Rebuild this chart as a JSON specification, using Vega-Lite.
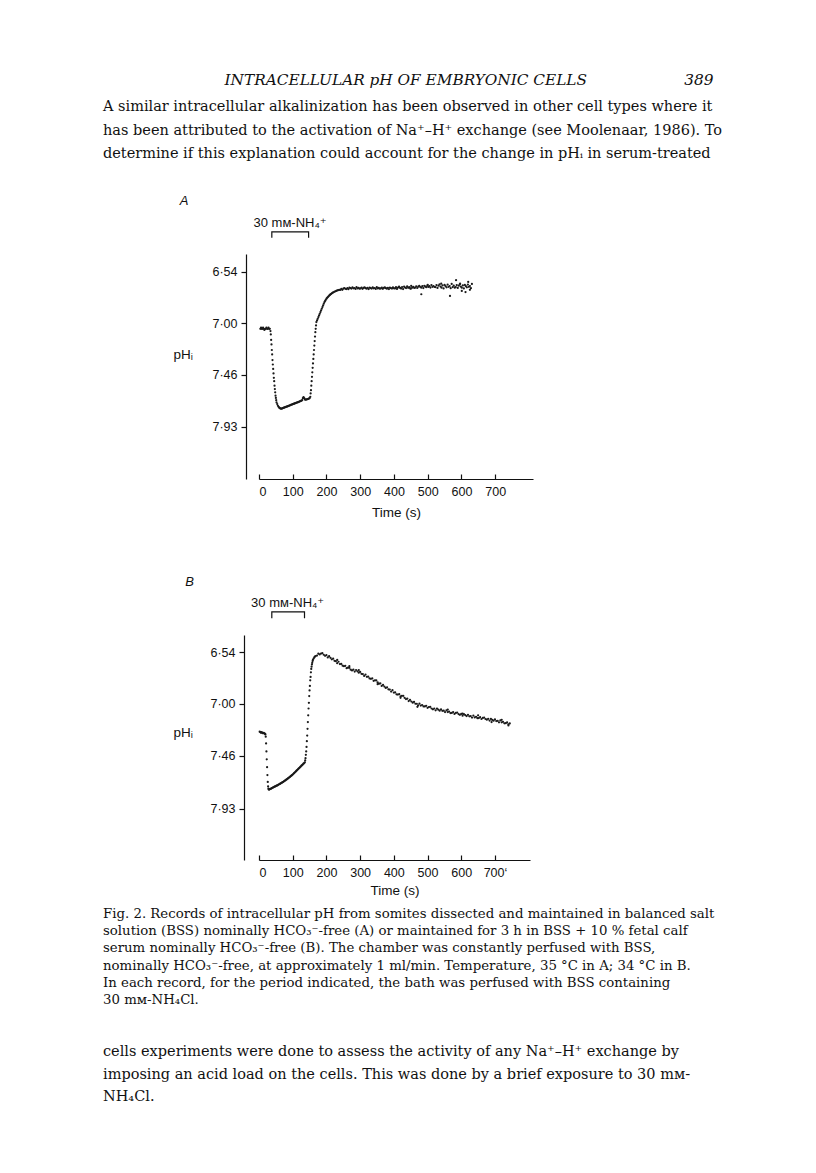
{
  "$schema": "https://vega.github.io/schema/vega-lite/v6.json",
  "background": "white",
  "padding": {"left": 103, "top": 72, "right": 10, "bottom": 10},
  "config": {
    "view": {"stroke": null},
    "concat": {"spacing": 56},
    "axis": {
      "domainColor": "#111", "domainWidth": 1.2, "tickColor": "#111", "tickWidth": 1.2,
      "labelColor": "#111", "labelFont": "Liberation Sans, DejaVu Sans", "labelFontSize": 12.5,
      "titleColor": "#111", "titleFont": "Liberation Sans, DejaVu Sans", "titleFontSize": 13.5, "titleFontWeight": "normal",
      "grid": false
    }
  },
  "title": {
    "text": "\u200b\u00a0\u00a0\u00a0\u00a0\u00a0\u00a0\u00a0\u00a0\u00a0\u00a0\u00a0\u00a0\u00a0\u00a0\u00a0\u00a0\u00a0\u00a0\u00a0\u00a0\u00a0\u00a0\u00a0\u00a0\u00a0INTRACELLULAR pH OF EMBRYONIC CELLS\u00a0\u00a0\u00a0\u00a0\u00a0\u00a0\u00a0\u00a0\u00a0\u00a0\u00a0\u00a0\u00a0\u00a0\u00a0\u00a0\u00a0\u00a0\u00a0\u00a0389",
    "subtitle": [
      "A similar intracellular alkalinization has been observed in other cell types where it",
      "has been attributed to the activation of Na⁺–H⁺ exchange (see Moolenaar, 1986). To",
      "determine if this explanation could account for the change in pHᵢ in serum-treated"
    ],
    "anchor": "start",
    "dx": 0,
    "offset": 34,
    "font": "DejaVu Serif", "fontSize": 15.3, "fontStyle": "italic", "fontWeight": "normal", "color": "#111",
    "subtitleFont": "DejaVu Serif", "subtitleFontSize": 14.5, "subtitleColor": "#111",
    "subtitleLineHeight": 23.5, "subtitlePadding": 12.5
  },
  "vconcat": [
    {
      "width": 274,
      "height": 225,
      "encoding": {
        "x": {"field": "t", "type": "quantitative",
          "scale": {"domain": [0, 812], "nice": false, "zero": false},
          "axis": {"values": [0, 100, 200, 300, 400, 500, 600, 700], "format": "d", "tickSize": -5, "labelPadding": 11, "title": "Time (s)", "titlePadding": 8}},
        "y": {"field": "p", "type": "quantitative",
          "scale": {"domain": [6.379, 8.397], "reverse": true, "nice": false, "zero": false},
          "axis": {"values": [6.54, 7.0, 7.46, 7.93], "labelExpr": "replace(format(datum.value, '.2f'), '.', '·')", "tickSize": 5, "labelPadding": 4, "offset": 13,
            "title": "pHᵢ", "titleAngle": 0, "titleAlign": "left", "titleBaseline": "middle", "titleX": -73, "titleY": 100}}
      },
      "layer": [
        {
          "data": {"values": [
            {"t":4,"p":7.05},{"t":6,"p":7.04},{"t":8,"p":7.05},{"t":10,"p":7.05},{"t":12,"p":7.04},{"t":14,"p":7.05},{"t":16,"p":7.06},{"t":18,"p":7.05},{"t":20,"p":7.05},{"t":22,"p":7.04},{"t":24,"p":7.05},{"t":26,"p":7.05},{"t":28,"p":7.04},{"t":30,"p":7.05},{"t":32,"p":7.05},{"t":34,"p":7.07},
            {"t":35,"p":7.10},{"t":36,"p":7.15},{"t":37,"p":7.19},{"t":38,"p":7.24},{"t":39,"p":7.28},{"t":40,"p":7.33},{"t":41,"p":7.37},{"t":42,"p":7.41},{"t":43,"p":7.45},{"t":44,"p":7.49},{"t":45,"p":7.52},{"t":46,"p":7.56},{"t":47,"p":7.59},{"t":48,"p":7.62},{"t":49,"p":7.65},{"t":50,"p":7.67},{"t":51,"p":7.69},{"t":52,"p":7.71},
            {"t":54,"p":7.725},{"t":56,"p":7.74},{"t":58,"p":7.75},{"t":60,"p":7.757},{"t":62,"p":7.762},{"t":64,"p":7.765},{"t":66,"p":7.766},{"t":68,"p":7.765},{"t":70,"p":7.762},{"t":72,"p":7.76},{"t":74,"p":7.757},{"t":76,"p":7.755},{"t":78,"p":7.752},{"t":80,"p":7.75},{"t":82,"p":7.748},{"t":84,"p":7.746},{"t":86,"p":7.743},{"t":88,"p":7.741},{"t":90,"p":7.738},{"t":92,"p":7.736},{"t":94,"p":7.733},{"t":96,"p":7.731},{"t":98,"p":7.728},{"t":100,"p":7.726},{"t":102,"p":7.724},{"t":104,"p":7.721},{"t":106,"p":7.719},{"t":108,"p":7.716},{"t":110,"p":7.714},{"t":112,"p":7.712},{"t":114,"p":7.71},{"t":116,"p":7.707},{"t":118,"p":7.705},{"t":120,"p":7.702},{"t":122,"p":7.699},{"t":124,"p":7.697},{"t":126,"p":7.694},{"t":128,"p":7.69},{"t":130,"p":7.672},{"t":132,"p":7.662},{"t":134,"p":7.672},{"t":136,"p":7.683},{"t":138,"p":7.686},{"t":140,"p":7.684},{"t":142,"p":7.682},{"t":144,"p":7.68},{"t":146,"p":7.678},{"t":148,"p":7.676},{"t":150,"p":7.672},
            {"t":152,"p":7.66},{"t":153,"p":7.63},{"t":154,"p":7.6},{"t":155,"p":7.56},{"t":156,"p":7.52},{"t":157,"p":7.48},{"t":158,"p":7.44},{"t":159,"p":7.4},{"t":160,"p":7.36},{"t":161,"p":7.32},{"t":162,"p":7.28},{"t":163,"p":7.24},{"t":164,"p":7.2},{"t":165,"p":7.16},{"t":166,"p":7.12},{"t":167,"p":7.08},{"t":168,"p":7.05},{"t":169,"p":7.02},{"t":170,"p":6.99},
            {"t":172,"p":6.975},{"t":174,"p":6.96},{"t":176,"p":6.945},{"t":178,"p":6.93},{"t":180,"p":6.915},{"t":182,"p":6.9},{"t":184,"p":6.885},{"t":186,"p":6.87},{"t":188,"p":6.855},{"t":190,"p":6.84},{"t":192,"p":6.825},{"t":194,"p":6.81},{"t":196,"p":6.8},{"t":198,"p":6.79},{"t":200,"p":6.78},{"t":202,"p":6.772},{"t":204,"p":6.765},{"t":206,"p":6.758},{"t":208,"p":6.752},{"t":210,"p":6.746},{"t":212,"p":6.741},{"t":214,"p":6.736},{"t":216,"p":6.731},{"t":218,"p":6.727},{"t":220,"p":6.723},{"t":223,"p":6.718},{"t":226,"p":6.714},{"t":229,"p":6.71},{"t":232,"p":6.706},{"t":235,"p":6.703},{"t":238,"p":6.7},
            {"t":241,"p":6.701},{"t":244,"p":6.692},{"t":247,"p":6.7},{"t":250,"p":6.69},{"t":253,"p":6.684},{"t":256,"p":6.691},{"t":259,"p":6.694},{"t":262,"p":6.685},{"t":265,"p":6.695},{"t":268,"p":6.681},{"t":271,"p":6.685},{"t":274,"p":6.689},{"t":277,"p":6.679},{"t":280,"p":6.687},{"t":283,"p":6.684},{"t":286,"p":6.692},{"t":289,"p":6.677},{"t":292,"p":6.688},{"t":295,"p":6.683},{"t":298,"p":6.69},
            {"t":301,"p":6.688},{"t":304,"p":6.681},{"t":307,"p":6.691},{"t":310,"p":6.683},{"t":313,"p":6.678},{"t":316,"p":6.686},{"t":319,"p":6.69},{"t":322,"p":6.682},{"t":325,"p":6.693},{"t":328,"p":6.68},{"t":331,"p":6.685},{"t":334,"p":6.689},{"t":337,"p":6.679},{"t":340,"p":6.687},{"t":343,"p":6.684},{"t":346,"p":6.692},{"t":349,"p":6.677},{"t":352,"p":6.688},{"t":355,"p":6.683},{"t":358,"p":6.69},
            {"t":361,"p":6.688},{"t":364,"p":6.681},{"t":367,"p":6.691},{"t":370,"p":6.683},{"t":373,"p":6.678},{"t":376,"p":6.686},{"t":379,"p":6.69},{"t":382,"p":6.682},{"t":385,"p":6.693},{"t":388,"p":6.68},{"t":391,"p":6.685},{"t":394,"p":6.689},{"t":397,"p":6.679},{"t":400,"p":6.687},
            {"t":403,"p":6.688},{"t":406,"p":6.677},{"t":409,"p":6.692},{"t":412,"p":6.68},{"t":415,"p":6.672},{"t":418,"p":6.683},{"t":421,"p":6.689},{"t":424,"p":6.676},{"t":427,"p":6.693},{"t":430,"p":6.672},{"t":433,"p":6.68},{"t":436,"p":6.685},{"t":439,"p":6.67},{"t":442,"p":6.682},{"t":445,"p":6.677},{"t":448,"p":6.688},{"t":451,"p":6.665},{"t":454,"p":6.681},{"t":457,"p":6.674},{"t":460,"p":6.683},
            {"t":463,"p":6.68},{"t":466,"p":6.669},{"t":469,"p":6.684},{"t":472,"p":6.672},{"t":475,"p":6.664},{"t":478,"p":6.675},{"t":481,"p":6.681},{"t":484,"p":6.668},{"t":487,"p":6.685},{"t":490,"p":6.664},{"t":493,"p":6.672},{"t":496,"p":6.677},{"t":499,"p":6.662},{"t":502,"p":6.674},{"t":505,"p":6.668},{"t":508,"p":6.68},{"t":511,"p":6.657},{"t":514,"p":6.673},{"t":517,"p":6.666},{"t":520,"p":6.675},
            {"t":523,"p":6.676},{"t":526,"p":6.658},{"t":529,"p":6.683},{"t":532,"p":6.663},{"t":535,"p":6.651},{"t":538,"p":6.671},{"t":541,"p":6.681},{"t":544,"p":6.661},{"t":547,"p":6.688},{"t":550,"p":6.656},{"t":553,"p":6.668},{"t":556,"p":6.678},{"t":559,"p":6.653},{"t":562,"p":6.673},{"t":565,"p":6.666},{"t":568,"p":6.686},{"t":571,"p":6.648},{"t":574,"p":6.676},{"t":577,"p":6.663},{"t":580,"p":6.681},
            {"t":583,"p":6.676},{"t":586,"p":6.658},{"t":589,"p":6.683},{"t":592,"p":6.663},{"t":595,"p":6.651},{"t":598,"p":6.671},{"t":601,"p":6.681},{"t":604,"p":6.661},{"t":607,"p":6.688},{"t":610,"p":6.656},{"t":613,"p":6.668},{"t":616,"p":6.678},{"t":619,"p":6.653},{"t":622,"p":6.673},{"t":625,"p":6.666},{"t":628,"p":6.686},{"t":631,"p":6.648},
            {"t":481,"p":6.74},{"t":584,"p":6.614},{"t":596,"p":6.645},{"t":566,"p":6.755},{"t":601,"p":6.71},{"t":612,"p":6.72},{"t":620,"p":6.63},{"t":540,"p":6.645},{"t":625,"p":6.7},{"t":500,"p":6.655},{"t":450,"p":6.69}
          ]},
          "mark": {"type": "point", "filled": true, "size": 5, "color": "#1a1a1a", "opacity": 1, "strokeWidth": 0}
        },
        {
          "data": {"values": [{"t":38,"p":6.234,"o":1},{"t":38,"p":6.181,"o":2},{"t":147,"p":6.181,"o":3},{"t":147,"p":6.234,"o":4}]},
          "mark": {"type": "line", "color": "#111", "strokeWidth": 1.2},
          "encoding": {"order": {"field": "o", "type": "quantitative"}}
        },
        {
          "data": {"values": [{"t":92,"p":6.098,"label":"30 mᴍ-NH₄⁺"}]},
          "mark": {"type": "text", "font": "Liberation Sans, DejaVu Sans", "fontSize": 13, "color": "#111", "baseline": "middle", "align": "center"},
          "encoding": {"text": {"field": "label"}}
        },
        {
          "data": {"values": [{"t":-222,"p":5.903,"label":"A"}]},
          "mark": {"type": "text", "font": "Liberation Sans, DejaVu Sans", "fontSize": 13, "fontStyle": "italic", "color": "#111", "baseline": "middle", "align": "center"},
          "encoding": {"text": {"field": "label"}}
        }
      ]
    },
    {
      "width": 271,
      "height": 225,
      "title": {
        "text": [
          "Fig. 2. Records of intracellular pH from somites dissected and maintained in balanced salt",
          "solution (BSS) nominally HCO₃⁻-free (A) or maintained for 3 h in BSS + 10 % fetal calf",
          "serum nominally HCO₃⁻-free (B). The chamber was constantly perfused with BSS,",
          "nominally HCO₃⁻-free, at approximately 1 ml/min. Temperature, 35 °C in A; 34 °C in B.",
          "In each record, for the period indicated, the bath was perfused with BSS containing",
          "30 mᴍ-NH₄Cl."
        ],
        "subtitle": [
          "cells experiments were done to assess the activity of any Na⁺–H⁺ exchange by",
          "imposing an acid load on the cells. This was done by a brief exposure to 30 mᴍ-",
          "NH₄Cl."
        ],
        "orient": "bottom",
        "anchor": "start",
        "frame": "group",
        "dx": -156,
        "offset": 10,
        "font": "DejaVu Serif", "fontSize": 13.3, "fontWeight": "normal", "lineHeight": 17.2, "color": "#111",
        "subtitleFont": "DejaVu Serif", "subtitleFontSize": 14.5, "subtitleLineHeight": 22.5, "subtitleColor": "#111", "subtitlePadding": 39
      },
      "encoding": {
        "x": {"field": "t", "type": "quantitative",
          "scale": {"domain": [0, 804], "nice": false, "zero": false},
          "axis": {"values": [0, 100, 200, 300, 400, 500, 600, 700], "format": "d", "labelExpr": "datum.value == 700 ? '700\u2018' : datum.label", "tickSize": -5, "labelPadding": 11, "title": "Time (s)", "titlePadding": 5}},
        "y": {"field": "p", "type": "quantitative",
          "scale": {"domain": [6.389, 8.382], "reverse": true, "nice": false, "zero": false},
          "axis": {"values": [6.54, 7.0, 7.46, 7.93], "labelExpr": "replace(format(datum.value, '.2f'), '.', '·')", "tickSize": 5, "labelPadding": 4, "offset": 15,
            "title": "pHᵢ", "titleAngle": 0, "titleAlign": "left", "titleBaseline": "middle", "titleX": -71, "titleY": 97}}
      },
      "layer": [
        {
          "data": {"values": [
            {"t":2,"p":7.245},{"t":4,"p":7.25},{"t":6,"p":7.255},{"t":8,"p":7.25},{"t":10,"p":7.255},{"t":12,"p":7.26},{"t":14,"p":7.255},{"t":16,"p":7.26},{"t":18,"p":7.265},
            {"t":19,"p":7.27},{"t":20,"p":7.29},{"t":21,"p":7.35},{"t":22,"p":7.42},{"t":23,"p":7.49},{"t":24,"p":7.56},{"t":25,"p":7.63},{"t":26,"p":7.69},{"t":27,"p":7.73},{"t":28,"p":7.75},{"t":29,"p":7.757},{"t":30,"p":7.758},
            {"t":32,"p":7.755},{"t":34,"p":7.752},{"t":36,"p":7.749},{"t":38,"p":7.746},{"t":40,"p":7.742},{"t":42,"p":7.739},{"t":44,"p":7.736},{"t":46,"p":7.733},{"t":48,"p":7.73},{"t":50,"p":7.727},{"t":52,"p":7.724},{"t":54,"p":7.721},{"t":56,"p":7.718},{"t":58,"p":7.714},{"t":60,"p":7.711},{"t":62,"p":7.708},{"t":64,"p":7.704},{"t":66,"p":7.7},{"t":68,"p":7.697},{"t":70,"p":7.693},{"t":72,"p":7.689},{"t":74,"p":7.685},{"t":76,"p":7.681},{"t":78,"p":7.677},{"t":80,"p":7.672},{"t":82,"p":7.668},{"t":84,"p":7.663},{"t":86,"p":7.659},{"t":88,"p":7.654},{"t":90,"p":7.65},{"t":92,"p":7.645},{"t":94,"p":7.64},{"t":96,"p":7.635},{"t":98,"p":7.63},{"t":100,"p":7.625},{"t":102,"p":7.619},{"t":104,"p":7.613},{"t":106,"p":7.607},{"t":108,"p":7.601},{"t":110,"p":7.595},{"t":112,"p":7.589},{"t":114,"p":7.583},{"t":116,"p":7.577},{"t":118,"p":7.571},{"t":120,"p":7.565},{"t":122,"p":7.559},{"t":124,"p":7.553},{"t":126,"p":7.547},{"t":128,"p":7.541},{"t":130,"p":7.535},{"t":132,"p":7.529},{"t":134,"p":7.523},{"t":136,"p":7.517},
            {"t":137,"p":7.5},{"t":138,"p":7.48},{"t":139,"p":7.45},{"t":140,"p":7.42},{"t":141,"p":7.38},{"t":142,"p":7.33},{"t":143,"p":7.28},{"t":144,"p":7.22},{"t":145,"p":7.16},{"t":146,"p":7.1},{"t":147,"p":7.04},{"t":148,"p":6.99},{"t":149,"p":6.93},{"t":150,"p":6.88},{"t":151,"p":6.84},{"t":152,"p":6.79},{"t":153,"p":6.76},{"t":154,"p":6.72},{"t":155,"p":6.69},{"t":156,"p":6.67},{"t":157,"p":6.65},{"t":158,"p":6.635},{"t":159,"p":6.62},{"t":160,"p":6.61},{"t":162,"p":6.598},{"t":164,"p":6.588},{"t":166,"p":6.58},{"t":168,"p":6.575},
            {"t":172,"p":6.571},{"t":176,"p":6.554},{"t":180,"p":6.561},{"t":184,"p":6.553},{"t":188,"p":6.55},{"t":192,"p":6.564},{"t":196,"p":6.573},{"t":200,"p":6.568},{"t":204,"p":6.588},{"t":208,"p":6.577},{"t":212,"p":6.591},{"t":216,"p":6.604},{"t":220,"p":6.599},{"t":224,"p":6.618},{"t":228,"p":6.621},{"t":232,"p":6.639},{"t":236,"p":6.626},{"t":240,"p":6.646},{"t":244,"p":6.645},{"t":248,"p":6.661},
            {"t":252,"p":6.665},{"t":256,"p":6.662},{"t":260,"p":6.683},{"t":264,"p":6.679},{"t":268,"p":6.68},{"t":272,"p":6.696},{"t":276,"p":6.703},{"t":280,"p":6.696},{"t":284,"p":6.713},{"t":288,"p":6.699},{"t":292,"p":6.711},{"t":296,"p":6.723},{"t":300,"p":6.716},{"t":304,"p":6.733},{"t":308,"p":6.735},{"t":312,"p":6.752},{"t":316,"p":6.739},{"t":320,"p":6.759},{"t":324,"p":6.758},{"t":328,"p":6.774},
            {"t":332,"p":6.777},{"t":336,"p":6.774},{"t":340,"p":6.795},{"t":344,"p":6.79},{"t":348,"p":6.791},{"t":352,"p":6.809},{"t":356,"p":6.82},{"t":360,"p":6.818},{"t":364,"p":6.84},{"t":368,"p":6.831},{"t":372,"p":6.846},{"t":376,"p":6.858},{"t":380,"p":6.852},{"t":384,"p":6.87},{"t":388,"p":6.872},{"t":392,"p":6.89},{"t":396,"p":6.878},{"t":400,"p":6.899},{"t":404,"p":6.898},{"t":408,"p":6.914},
            {"t":412,"p":6.917},{"t":416,"p":6.913},{"t":420,"p":6.933},{"t":424,"p":6.928},{"t":428,"p":6.928},{"t":432,"p":6.945},{"t":436,"p":6.956},{"t":440,"p":6.953},{"t":444,"p":6.974},{"t":448,"p":6.964},{"t":452,"p":6.978},{"t":456,"p":6.989},{"t":460,"p":6.982},{"t":464,"p":6.998},{"t":468,"p":6.998},{"t":472,"p":7.013},{"t":476,"p":6.997},{"t":480,"p":7.014},{"t":484,"p":7.009},{"t":488,"p":7.022},
            {"t":492,"p":7.022},{"t":496,"p":7.016},{"t":500,"p":7.034},{"t":504,"p":7.027},{"t":508,"p":7.025},{"t":512,"p":7.04},{"t":516,"p":7.047},{"t":520,"p":7.04},{"t":524,"p":7.056},{"t":528,"p":7.042},{"t":532,"p":7.051},{"t":536,"p":7.059},{"t":540,"p":7.048},{"t":544,"p":7.061},{"t":548,"p":7.059},{"t":552,"p":7.072},{"t":556,"p":7.056},{"t":560,"p":7.072},{"t":564,"p":7.067},{"t":568,"p":7.08},
            {"t":572,"p":7.079},{"t":576,"p":7.072},{"t":580,"p":7.088},{"t":584,"p":7.079},{"t":588,"p":7.076},{"t":592,"p":7.089},{"t":596,"p":7.096},{"t":600,"p":7.088},{"t":604,"p":7.104},{"t":608,"p":7.09},{"t":612,"p":7.099},{"t":616,"p":7.107},{"t":620,"p":7.096},{"t":624,"p":7.109},{"t":628,"p":7.107},{"t":632,"p":7.12},{"t":636,"p":7.103},{"t":640,"p":7.119},{"t":644,"p":7.114},{"t":648,"p":7.126},
            {"t":652,"p":7.125},{"t":656,"p":7.117},{"t":660,"p":7.133},{"t":664,"p":7.124},{"t":668,"p":7.12},{"t":672,"p":7.133},{"t":676,"p":7.139},{"t":680,"p":7.131},{"t":684,"p":7.147},{"t":688,"p":7.132},{"t":692,"p":7.141},{"t":696,"p":7.148},{"t":700,"p":7.137},{"t":704,"p":7.151},{"t":708,"p":7.149},{"t":712,"p":7.162},{"t":716,"p":7.146},{"t":720,"p":7.162},{"t":724,"p":7.158},{"t":728,"p":7.171},
            {"t":732,"p":7.17},{"t":736,"p":7.163},{"t":740,"p":7.18},{"t":744,"p":7.172},
            {"t":232,"p":6.61},{"t":268,"p":6.665},{"t":296,"p":6.7},{"t":352,"p":6.825},{"t":420,"p":6.945},{"t":470,"p":7.025},{"t":560,"p":7.05},{"t":604,"p":7.085},{"t":650,"p":7.1},{"t":690,"p":7.16},{"t":720,"p":7.14},{"t":740,"p":7.19}
          ]},
          "mark": {"type": "point", "filled": true, "size": 5, "color": "#1a1a1a", "opacity": 1, "strokeWidth": 0}
        },
        {
          "data": {"values": [{"t":38,"p":6.24,"o":1},{"t":38,"p":6.184,"o":2},{"t":135,"p":6.184,"o":3},{"t":135,"p":6.24,"o":4}]},
          "mark": {"type": "line", "color": "#111", "strokeWidth": 1.2},
          "encoding": {"order": {"field": "o", "type": "quantitative"}}
        },
        {
          "data": {"values": [{"t":85,"p":6.103,"label":"30 mᴍ-NH₄⁺"}]},
          "mark": {"type": "text", "font": "Liberation Sans, DejaVu Sans", "fontSize": 13, "color": "#111", "baseline": "middle", "align": "center"},
          "encoding": {"text": {"field": "label"}}
        },
        {
          "data": {"values": [{"t":-206,"p":5.917,"label":"B"}]},
          "mark": {"type": "text", "font": "Liberation Sans, DejaVu Sans", "fontSize": 13, "fontStyle": "italic", "color": "#111", "baseline": "middle", "align": "center"},
          "encoding": {"text": {"field": "label"}}
        }
      ]
    }
  ]
}
